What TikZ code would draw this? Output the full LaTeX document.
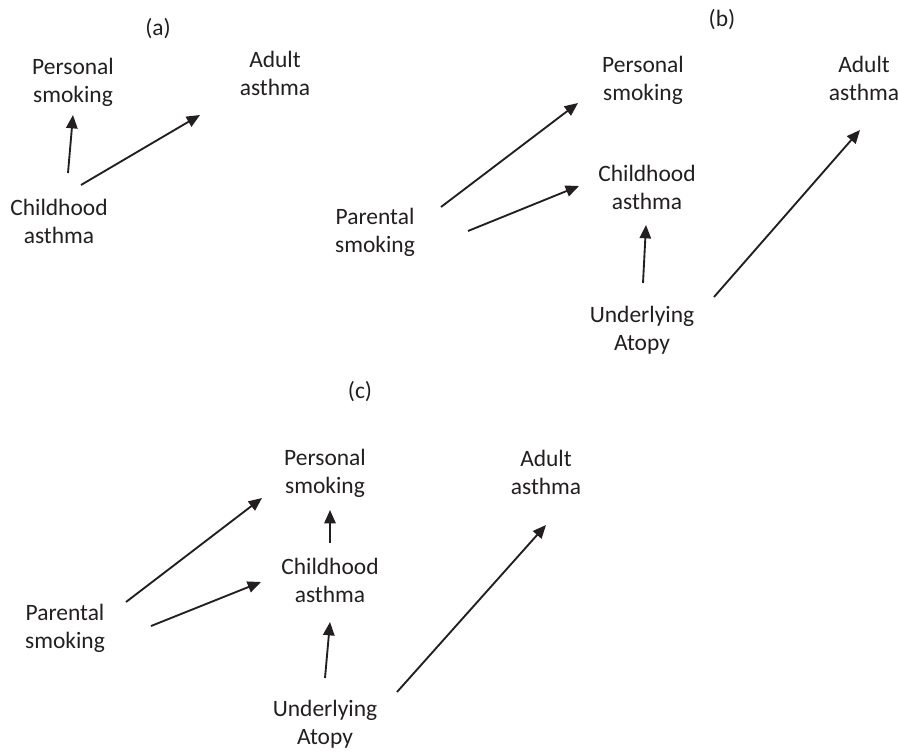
\documentclass[tikz,border=0pt]{standalone}
\usepackage{fontspec}
\setmainfont{Carlito}
\usetikzlibrary{arrows.meta}
\definecolor{ink}{RGB}{35,31,32}

\begin{document}
\begin{tikzpicture}[x=0.75pt, y=-0.75pt,
  lbl/.style={align=center, inner sep=0pt, text=ink, font=\fontsize{17.6}{21}\selectfont},
  arr/.style={-{Triangle[length=10pt,width=8.5pt]}, line width=1.4pt, ink}
]
\useasboundingbox (0,0) rectangle (898,752);
% (a) childhood asthma only
\node[lbl] (la) at (158,29) {(a)};
\node[lbl] (Pa) at (73,82) {Personal\\smoking};
\node[lbl] (Aa) at (275,73.5) {Adult\\asthma};
\node[lbl] (Ca) at (59,221.5) {Childhood\\asthma};
\draw[arr] ([shift={(9,-48.5)}]Ca.center) -- ([shift={(0,33)}]Pa.center);
\draw[arr] ([shift={(22,-36.5)}]Ca.center) -- ([shift={(-75,41.5)}]Aa.center);
% (b) parental smoking and atopy
\node[lbl] (lb) at (722,20) {(b)};
\node[lbl] (Pb) at (643,80) {Personal\\smoking};
\node[lbl] (Ab) at (864,78) {Adult\\asthma};
\node[lbl] (Cb) at (647,187) {Childhood\\asthma};
\node[lbl] (Parb) at (375,232.4) {Parental\\smoking};
\node[lbl] (Ub) at (642,330.4) {Underlying\\Atopy};
\draw[arr] ([shift={(66,-25.4)}]Parb.center) -- ([shift={(-65,23)}]Pb.center);
\draw[arr] ([shift={(93,-1.4)}]Parb.center) -- ([shift={(-68,-1)}]Cb.center);
\draw[arr] ([shift={(1,-47.4)}]Ub.center) -- ([shift={(-1,38)}]Cb.center);
\draw[arr] ([shift={(72,-33.4)}]Ub.center) -- ([shift={(-4,52)}]Ab.center);
% (c) both paths
\node[lbl] (lc) at (360,392) {(c)};
\node[lbl] (Pc) at (325,473.4) {Personal\\smoking};
\node[lbl] (Ac) at (546,472) {Adult\\asthma};
\node[lbl] (Cc) at (330,580.5) {Childhood\\asthma};
\node[lbl] (Parc) at (65,628.4) {Parental\\smoking};
\node[lbl] (Uc) at (325,724.4) {Underlying\\Atopy};
\draw[arr] ([shift={(61,-26.4)}]Parc.center) -- ([shift={(-63,24.6)}]Pc.center);
\draw[arr] ([shift={(86,-2.4)}]Parc.center) -- ([shift={(-69,1.5)}]Cc.center);
\draw[arr] ([shift={(0,-37.5)}]Cc.center) -- ([shift={(5,36.6)}]Pc.center);
\draw[arr] ([shift={(0,-46.4)}]Uc.center) -- ([shift={(0,41.5)}]Cc.center);
\draw[arr] ([shift={(72,-32.4)}]Uc.center) -- ([shift={(0,53)}]Ac.center);
\end{tikzpicture}
\end{document}
